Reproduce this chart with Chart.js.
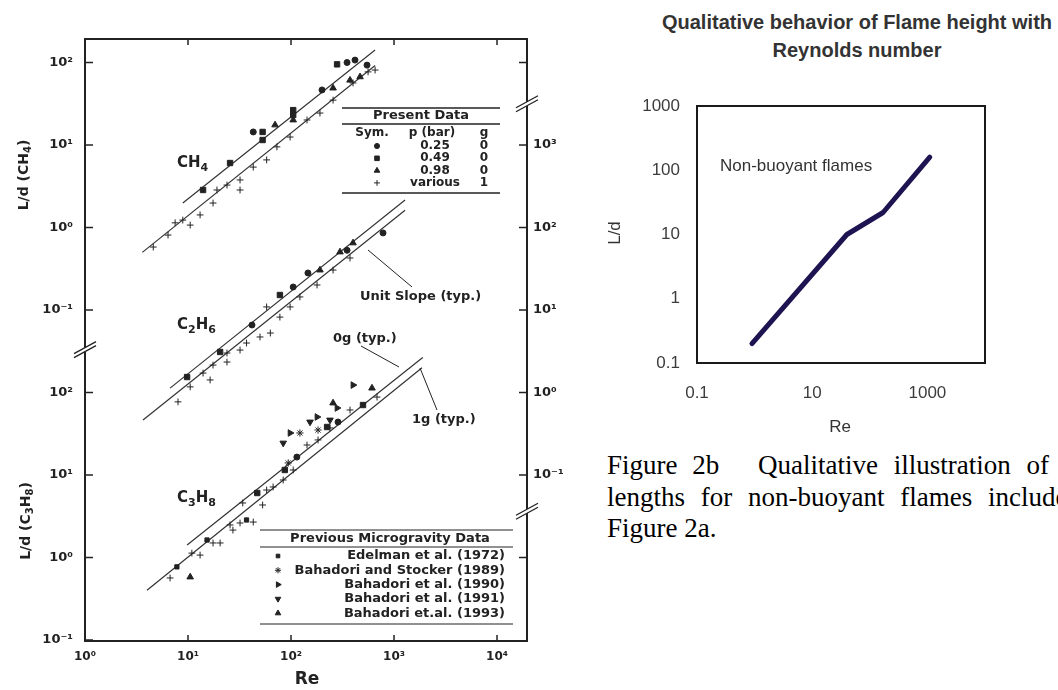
<!DOCTYPE html>
<html lang="en">
<head>
<meta charset="UTF-8">
<title>Flame length vs Reynolds number</title>
<script src="https://cdn.jsdelivr.net/npm/chart.js"></script>
<style>
  html, body { margin: 0; padding: 0; background: #fff; }
  body { width: 1058px; height: 690px; position: relative; overflow: hidden; }
  #leftBox { position: absolute; left: 0; top: 0; width: 580px; height: 690px; }
  #rightBox { position: absolute; left: 580px; top: 0; width: 478px; height: 440px; }
  .title2b {
    position: absolute; left: 657px; top: 8px; width: 400px;
    text-align: center; color: #333;
    font: bold 20px "Liberation Sans", Arial, sans-serif; line-height: 28px;
  }
  .caption {
    position: absolute; left: 607px; top: 450px; width: 520px;
    font-family: "Liberation Serif", "Times New Roman", serif;
    font-size: 27px; line-height: 31.5px; color: #000; white-space: nowrap;
  }
  .caption .wide { word-spacing: 9px; }
</style>
</head>
<body>
  <div id="leftBox"><canvas id="leftChart"></canvas></div>
  <div class="title2b">Qualitative behavior of Flame height with<br>Reynolds number</div>
  <div id="rightBox"><canvas id="rightChart"></canvas></div>
  <div class="caption">
    <div><span style="word-spacing:8px">Figure 2b</span><span style="position:absolute;left:151px" class="wide">Qualitative illustration of</span></div>
    <div class="wide">lengths for non-buoyant flames included in</div>
    <div>Figure 2a.</div>
  </div>

<script>
    // ---------- Figure 2a: L/d against Re, three fuels stacked on one log axis ----------
    // symbol codes: c 0.25 bar, s 0.49 bar, t 0.98 bar, p various (1g),
    // e Edelman 1972, a Bahadori & Stocker 1989, r Bahadori 1990, d Bahadori 1991, u Bahadori 1993
    var ch4Re  = [14, 25.6, 43, 53, 53, 70, 105, 105, 105, 200, 256, 280, 350, 418, 374, 468, 547,
                  4.6, 6.4, 7.5, 8.9, 10.5, 13.1, 17.5, 19.1, 23.9, 32, 32, 43, 58, 73, 98, 143, 191, 256, 400, 560, 655];
    var ch4Ld  = [2.85, 6.05, 14.4, 14.4, 11.5, 17.5, 26.5, 23.1, 20.1, 46.5, 49, 95, 100, 107, 61, 67, 93,
                  0.58, 0.81, 1.14, 1.23, 1.07, 1.42, 1.98, 2.85, 3.27, 3.77, 2.85, 5.4, 6.6, 9.5, 12.5, 20.1, 24.4, 35, 56.5, 77, 81];
    var ch4Sym = ['s', 's', 'c', 's', 's', 't', 's', 's', 't', 'c', 't', 's', 'c', 'c', 't', 't', 'c',
                  'p', 'p', 'p', 'p', 'p', 'p', 'p', 'p', 'p', 'p', 'p', 'p', 'p', 'p', 'p', 'p', 'p', 'p', 'p', 'p', 'p'];

    var c2h6Re  = [9.8, 20.5, 41.8, 78, 105, 146, 191, 299, 350, 400, 782,
                   8.0, 10.5, 14.0, 16.4, 17.5, 23.9, 23.9, 32, 37, 50, 58, 63, 78, 98, 122, 179, 256, 374];
    var c2h6Ld  = [1.54, 3.10, 6.58, 15.2, 19.0, 28.1, 30.5, 50.5, 53, 65, 86,
                   0.77, 1.17, 1.72, 1.42, 2.15, 2.34, 3.01, 3.27, 3.98, 4.71, 10.9, 5.26, 8.2, 10.9, 14.4, 20.1, 30.5, 42.7];
    var c2h6Sym = ['s', 's', 'c', 's', 'c', 'c', 't', 't', 'c', 't', 'c',
                   'p', 'p', 'p', 'p', 'p', 'p', 'p', 'p', 'p', 'p', 'p', 'p', 'p', 'p', 'p', 'p', 'p', 'p'];

    var c3h8Re  = [6.7, 7.8, 10.5, 10.9, 13.1, 15.3, 17.5, 20.5, 25.6, 27.3, 32, 37, 43, 34, 47, 53, 58, 67, 84, 87,
                   94, 105, 114, 143, 183, 224, 239, 286, 374, 500, 684,
                   84, 98, 122, 153, 179, 183, 239, 256, 280, 400, 611];
    var c3h8Ld  = [0.565, 0.77, 0.58, 1.13, 1.07, 1.63, 1.50, 1.50, 2.48, 2.15, 2.62, 2.85, 2.69, 4.58, 6.05, 4.33, 6.58, 7.16, 8.7, 11.5,
                   14.0, 11.5, 16.5, 23.1, 26.6, 38.2, 37.2, 43.9, 61.4, 70.5, 88,
                   24.4, 32.3, 32.3, 43.9, 50.5, 35.1, 46.4, 74.6, 64.9, 123, 113];
    var c3h8Sym = ['p', 'e', 'u', 'p', 'p', 'e', 'p', 'p', 'p', 'p', 'p', 'e', 'p', 'p', 's', 'p', 'p', 'p', 'p', 's',
                   'a', 'p', 'c', 'p', 'p', 's', 'p', 'c', 'p', 's', 'p',
                   'd', 'r', 'a', 'd', 'r', 'a', 'd', 'u', 'r', 'r', 'u'];

    // unit-slope guide lines (0g upper, 1g lower), end points [Re], [L/d]
    var ch4Fit0gRe  = [8.9, 655],  ch4Fit0gLd  = [1.98, 142];
    var ch4Fit1gRe  = [3.6, 655],  ch4Fit1gLd  = [0.5, 92];
    var c2h6Fit0gRe = [6.7, 1280], c2h6Fit0gLd = [1.13, 216];
    var c2h6Fit1gRe = [3.66, 1280], c2h6Fit1gLd = [0.464, 162];
    var c3h8Fit0gRe = [9.8, 1900], c3h8Fit0gLd = [1.42, 265];
    var c3h8Fit1gRe = [4.0, 1870], c3h8Fit1gLd = [0.40, 200];

    // each fuel sits on its own band of the shared log axis
    var ch4Shift = 1e4, c2h6Shift = 1e2, c3h8Shift = 1;

    var reTicks = [1, 10, 100, 1000, 10000];
    var bandDecades = [-1, 0, 1, 2, 3, 4, 5, 6];

    var presentRows = [['c', '0.25', '0'], ['s', '0.49', '0'], ['t', '0.98', '0'], ['p', 'various', '1']];
    var previousRows = [['e', 'Edelman et al. (1972)'], ['a', 'Bahadori and Stocker (1989)'],
                        ['r', 'Bahadori et al. (1990)'], ['d', 'Bahadori et al. (1991)'], ['u', 'Bahadori et.al. (1993)']];

    // ---------- Figure 2b: qualitative curve ----------
    var qualRe = [0.9, 40, 170, 1100];
    var qualLd = [0.2, 10, 22, 160];
    var qualReTicks = [0.1, 10, 1000];
    var qualLdTicks = [0.1, 1, 10, 100, 1000];

    var ink = '#222';
    var bold = '"DejaVu Sans", "Liberation Sans", sans-serif';

    var markStyle = {
        c: { pointStyle: 'circle', radius: 3, rotation: 0 },
        s: { pointStyle: 'rect', radius: 3.8, rotation: 0 },
        t: { pointStyle: 'triangle', radius: 3.8, rotation: 0 },
        p: { pointStyle: 'cross', radius: 3.4, rotation: 0 },
        e: { pointStyle: 'rect', radius: 3, rotation: 0 },
        a: { pointStyle: 'star', radius: 3.6, rotation: 0 },
        r: { pointStyle: 'triangle', radius: 3.8, rotation: 90 },
        d: { pointStyle: 'triangle', radius: 3.8, rotation: 180 },
        u: { pointStyle: 'triangle', radius: 3.8, rotation: 0 }
    };

    function sup(n) {
        var m = { '-': '⁻', '0': '⁰', '1': '¹', '2': '²', '3': '³', '4': '⁴', '5': '⁵', '6': '⁶' };
        return '10' + String(n).split('').map(function (ch) { return m[ch]; }).join('');
    }

    function points(re, ld, shift) {
        return re.map(function (r, i) { return { x: r, y: ld[i] * shift }; });
    }

    function fuelSet(re, ld, sym, shift) {
        return {
            data: points(re, ld, shift),
            backgroundColor: ink,
            borderColor: ink,
            borderWidth: 1,
            pointStyle: function (c) { return markStyle[sym[c.dataIndex]].pointStyle; },
            pointRadius: function (c) { return markStyle[sym[c.dataIndex]].radius; },
            pointRotation: function (c) { return markStyle[sym[c.dataIndex]].rotation; }
        };
    }

    function fitSet(re, ld, shift) {
        return { data: points(re, ld, shift), showLine: true, pointRadius: 0, borderColor: '#333', borderWidth: 1.2 };
    }

    function drawMark(ctx, code, x, y) {
        var m = markStyle[code];
        ctx.fillStyle = ink;
        ctx.strokeStyle = ink;
        ctx.lineWidth = 1;
        if (Chart.helpers && Chart.helpers.drawPoint) {
            Chart.helpers.drawPoint(ctx, { pointStyle: m.pointStyle, radius: m.radius * 0.85, rotation: m.rotation, borderWidth: 1 }, x, y);
        } else {
            ctx.fillRect(x - 2, y - 2, 4, 4);
        }
    }

    // text with subscripts: pieces = [[text, isSub], ...]
    function richText(ctx, pieces, x, y, size, align, angle) {
        ctx.save();
        ctx.translate(x, y);
        if (angle) ctx.rotate(angle);
        function fontOf(sub) { return 'bold ' + (sub ? Math.round(size * 0.72) : size) + 'px ' + bold; }
        var w = 0;
        pieces.forEach(function (p) { ctx.font = fontOf(p[1]); w += ctx.measureText(p[0]).width; });
        var cx = align === 'center' ? -w / 2 : 0;
        ctx.textAlign = 'left';
        ctx.textBaseline = 'middle';
        ctx.fillStyle = ink;
        pieces.forEach(function (p) {
            ctx.font = fontOf(p[1]);
            ctx.fillText(p[0], cx, p[1] ? size * 0.32 : 0);
            cx += ctx.measureText(p[0]).width;
        });
        ctx.restore();
    }

    function drawBreak(ctx, x, y) {
        ctx.save();
        ctx.fillStyle = '#fff';
        ctx.beginPath();
        ctx.moveTo(x - 11, y + 4); ctx.lineTo(x + 11, y - 8);
        ctx.lineTo(x + 11, y - 4); ctx.lineTo(x - 11, y + 8);
        ctx.closePath();
        ctx.fill();
        ctx.strokeStyle = ink;
        ctx.lineWidth = 1.3;
        ctx.beginPath();
        ctx.moveTo(x - 11, y + 4); ctx.lineTo(x + 11, y - 8);
        ctx.moveTo(x - 11, y + 8); ctx.lineTo(x + 11, y - 4);
        ctx.stroke();
        ctx.restore();
    }

    function line(ctx, x1, y1, x2, y2) {
        ctx.beginPath(); ctx.moveTo(x1, y1); ctx.lineTo(x2, y2); ctx.stroke();
    }

    var leftDecor = {
        id: 'leftDecor',
        afterDraw: function (chart) {
            var ctx = chart.ctx, a = chart.chartArea, sx = chart.scales.x, sy = chart.scales.y;
            ctx.save();
            ctx.strokeStyle = ink;
            ctx.lineWidth = 2;
            ctx.strokeRect(a.left, a.top, a.right - a.left, a.bottom - a.top);

            // inward tick marks
            ctx.lineWidth = 1.5;
            reTicks.forEach(function (v) {
                var px = sx.getPixelForValue(v);
                line(ctx, px, a.bottom, px, a.bottom - 6);
                line(ctx, px, a.top, px, a.top + 6);
            });
            bandDecades.forEach(function (k) {
                var py = sy.getPixelForValue(Math.pow(10, k));
                line(ctx, a.left, py, a.left + 8, py);
                if (k >= 0) line(ctx, a.right, py, a.right - 8, py);
            });

            // axis breaks between the bands
            drawBreak(ctx, a.left, sy.getPixelForValue(Math.pow(10, 2.52)));
            drawBreak(ctx, a.right, sy.getPixelForValue(Math.pow(10, 5.5)));
            drawBreak(ctx, a.right, sy.getPixelForValue(Math.pow(10, 0.56)));

            // axis titles
            richText(ctx, [['L/d (CH', 0], ['4', 1], [')', 0]], 24, 175, 14, 'center', -Math.PI / 2);
            richText(ctx, [['L/d (C', 0], ['3', 1], ['H', 0], ['8', 1], [')', 0]], 26, 521, 14, 'center', -Math.PI / 2);
            richText(ctx, [['Re', 0]], 307, 680, 17, 'center', 0);

            // fuel labels
            richText(ctx, [['CH', 0], ['4', 1]], 177, 163, 15, 'left', 0);
            richText(ctx, [['C', 0], ['2', 1], ['H', 0], ['6', 1]], 177, 325, 15, 'left', 0);
            richText(ctx, [['C', 0], ['3', 1], ['H', 0], ['8', 1]], 177, 498, 15, 'left', 0);

            // callouts
            ctx.fillStyle = ink;
            ctx.font = 'bold 13px ' + bold;
            ctx.textBaseline = 'middle';
            ctx.textAlign = 'left';
            ctx.fillText('Unit Slope (typ.)', 360, 297);
            ctx.fillText('0g (typ.)', 333, 339);
            ctx.fillText('1g (typ.)', 412, 420);
            ctx.lineWidth = 1;
            line(ctx, 368, 250, 412, 287);
            line(ctx, 361, 346, 399, 367);
            line(ctx, 420, 368, 437, 410);

            // present data table
            ctx.lineWidth = 1.3;
            line(ctx, 342, 108, 500, 108);
            line(ctx, 342, 124, 500, 124);
            line(ctx, 342, 193, 500, 193);
            ctx.textAlign = 'center';
            ctx.font = 'bold 13px ' + bold;
            ctx.fillText('Present Data', 421, 116);
            ctx.font = 'bold 12px ' + bold;
            ctx.fillText('Sym.', 372, 133);
            ctx.fillText('p (bar)', 432, 133);
            ctx.fillText('g', 484, 133);
            presentRows.forEach(function (r, i) {
                var yy = 146 + i * 12.3;
                drawMark(ctx, r[0], 377, yy);
                ctx.fillStyle = ink;
                ctx.fillText(r[1], 435, yy);
                ctx.fillText(r[2], 484, yy);
            });

            // previous microgravity data table
            line(ctx, 260, 530, 513, 530);
            line(ctx, 260, 547, 513, 547);
            line(ctx, 260, 624, 513, 624);
            ctx.font = 'bold 13px ' + bold;
            ctx.fillText('Previous Microgravity Data', 390, 539);
            ctx.textAlign = 'right';
            previousRows.forEach(function (r, i) {
                var yy = 556 + i * 14.3;
                drawMark(ctx, r[0], 278, yy);
                ctx.fillStyle = ink;
                ctx.fillText(r[1], 505, yy);
            });
            ctx.restore();
        }
    };

    function bandScale(pos, labelFor) {
        return {
            type: 'logarithmic',
            position: pos,
            min: Math.pow(10, -1.0121),
            max: Math.pow(10, 6.285),
            grid: { display: false, drawTicks: false },
            border: { display: false },
            afterBuildTicks: function (s) { s.ticks = bandDecades.map(function (k) { return { value: Math.pow(10, k) }; }); },
            afterFit: function (s) { s.width = pos === 'left' ? 85 : 53; },
            ticks: {
                autoSkip: false,
                padding: pos === 'left' ? 12 : 6,
                color: ink,
                font: { family: bold, size: 13, weight: 'bold' },
                callback: function (v) { return labelFor(Math.round(Math.log10(v))); }
            }
        };
    }

    new Chart(document.getElementById('leftChart'), {
        type: 'scatter',
        data: {
            datasets: [
                fuelSet(ch4Re, ch4Ld, ch4Sym, ch4Shift),
                fuelSet(c2h6Re, c2h6Ld, c2h6Sym, c2h6Shift),
                fuelSet(c3h8Re, c3h8Ld, c3h8Sym, c3h8Shift),
                fitSet(ch4Fit0gRe, ch4Fit0gLd, ch4Shift),
                fitSet(ch4Fit1gRe, ch4Fit1gLd, ch4Shift),
                fitSet(c2h6Fit0gRe, c2h6Fit0gLd, c2h6Shift),
                fitSet(c2h6Fit1gRe, c2h6Fit1gLd, c2h6Shift),
                fitSet(c3h8Fit0gRe, c3h8Fit0gLd, c3h8Shift),
                fitSet(c3h8Fit1gRe, c3h8Fit1gLd, c3h8Shift)
            ]
        },
        options: {
            responsive: true,
            maintainAspectRatio: false,
            animation: false,
            layout: { padding: { top: 39, left: 0, right: 0, bottom: 0 } },
            plugins: { legend: { display: false }, tooltip: { enabled: false } },
            scales: {
                x: {
                    type: 'logarithmic',
                    min: 1,
                    max: Math.pow(10, 4.291),
                    grid: { display: false, drawTicks: false },
                    border: { display: false },
                    afterBuildTicks: function (s) { s.ticks = reTicks.map(function (v) { return { value: v }; }); },
                    afterFit: function (s) { s.height = 49; },
                    ticks: {
                        autoSkip: false, maxRotation: 0, padding: 9, color: ink,
                        font: { family: bold, size: 12, weight: 'bold' },
                        callback: function (v) { return sup(Math.round(Math.log10(v))); }
                    }
                },
                // left: CH4 on the upper band, C3H8 on the lower band
                y: bandScale('left', function (k) { return k <= 2 ? sup(k) : sup(k - 4); }),
                // right: C2H6 band
                y2: bandScale('right', function (k) { return (k >= 1 && k <= 5) ? sup(k - 2) : ''; })
            }
        },
        plugins: [leftDecor]
    });

    // ---------- right chart ----------
    var rightDecor = {
        id: 'rightDecor',
        afterDraw: function (chart) {
            var ctx = chart.ctx, a = chart.chartArea;
            ctx.save();
            ctx.strokeStyle = '#1a1a1a';
            ctx.lineWidth = 2;
            ctx.strokeRect(a.left, a.top, a.right - a.left, a.bottom - a.top);
            ctx.fillStyle = '#333';
            ctx.font = '17px "Liberation Sans", Arial, sans-serif';
            ctx.textBaseline = 'middle';
            ctx.textAlign = 'left';
            ctx.fillText('Non-buoyant flames', 140, 166);
            ctx.textAlign = 'center';
            ctx.fillText('Re', 260, 427);
            ctx.translate(35, 233);
            ctx.rotate(-Math.PI / 2);
            ctx.fillText('L/d', 0, 0);
            ctx.restore();
        }
    };

    var plainFont = { family: '"Liberation Sans", Arial, sans-serif', size: 17 };

    new Chart(document.getElementById('rightChart'), {
        type: 'scatter',
        data: {
            datasets: [{
                data: points(qualRe, qualLd, 1),
                showLine: true,
                pointRadius: 0,
                borderColor: '#1e1452',
                borderWidth: 5,
                borderCapStyle: 'round',
                borderJoinStyle: 'round',
                tension: 0
            }]
        },
        options: {
            responsive: true,
            maintainAspectRatio: false,
            animation: false,
            layout: { padding: { top: 106, right: 73, left: 0, bottom: 0 } },
            plugins: { legend: { display: false }, tooltip: { enabled: false } },
            scales: {
                x: {
                    type: 'logarithmic', min: 0.1, max: 10000,
                    grid: { display: false, drawTicks: false },
                    border: { display: false },
                    afterBuildTicks: function (s) { s.ticks = qualReTicks.map(function (v) { return { value: v }; }); },
                    afterFit: function (s) { s.height = 77; },
                    ticks: { autoSkip: false, maxRotation: 0, padding: 20, color: '#3c3c3c', font: plainFont,
                             callback: function (v) { return String(v); } }
                },
                y: {
                    type: 'logarithmic', min: 0.1, max: 1000,
                    grid: { display: false, drawTicks: false },
                    border: { display: false },
                    afterBuildTicks: function (s) { s.ticks = qualLdTicks.map(function (v) { return { value: v }; }); },
                    afterFit: function (s) { s.width = 117; },
                    ticks: { autoSkip: false, padding: 17, color: '#3c3c3c', font: plainFont,
                             callback: function (v) { return String(v); } }
                }
            }
        },
        plugins: [rightDecor]
    });
</script>
</body>
</html>
